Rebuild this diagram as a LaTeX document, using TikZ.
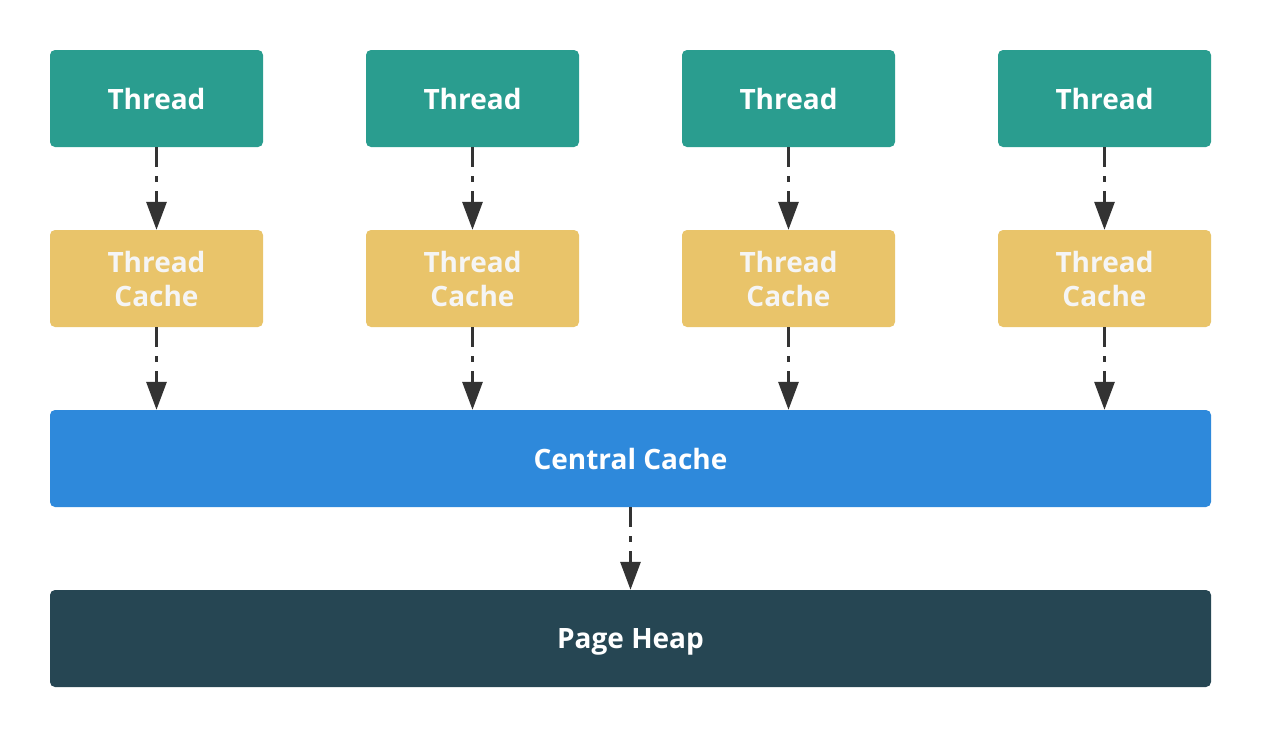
\documentclass[tikz,border=0pt]{standalone}
\usepackage{fontspec}
\setmainfont{Open Sans}
\usetikzlibrary{arrows.meta}
\definecolor{thr}{HTML}{2A9D8F}
\definecolor{tc}{HTML}{E9C46A}
\definecolor{cc}{HTML}{2E89DB}
\definecolor{ph}{HTML}{264653}
\definecolor{arr}{HTML}{333333}
\tikzset{
  box/.style={rounded corners=5pt, inner sep=0pt, minimum width=213pt, minimum height=97pt,
    font=\fontsize{28}{34}\selectfont\bfseries, text=white, align=center},
  thrbox/.style={box, fill=thr},
  tcbox/.style={box, fill=tc, text=white!96!black},
  widebox/.style={box, minimum width=1161pt, text depth=0pt},
  flow/.style={draw=arr, line width=3pt, dash pattern=on 20pt off 9pt on 6pt off 9pt,
    -{Triangle[length=28pt,width=20pt]}, shorten >=0pt}
}
\begin{document}
\begin{tikzpicture}[x=1pt,y=-1pt]
\useasboundingbox (0,0) rectangle (1262,737);
\foreach \i/\cx in {1/156.5,2/472.5,3/788.5,4/1104.5}{
  \node[thrbox] (t\i) at (\cx,98.5) {Thread};
  \node[tcbox] (c\i) at (\cx,278.5) {Thread\\Cache};
}
\node[widebox, fill=cc] (central) at (630.5,458.5) {Central Cache};
\node[widebox, fill=ph] (heap) at (630.5,638.5) {Page Heap};
\foreach \i in {1,2,3,4}{
  \draw[flow] (t\i.south) -- (c\i.north);
  \draw[flow] (c\i.south) -- (c\i.south |- central.north);
}
\draw[flow] (central.south) -- (heap.north);
\end{tikzpicture}
\end{document}
